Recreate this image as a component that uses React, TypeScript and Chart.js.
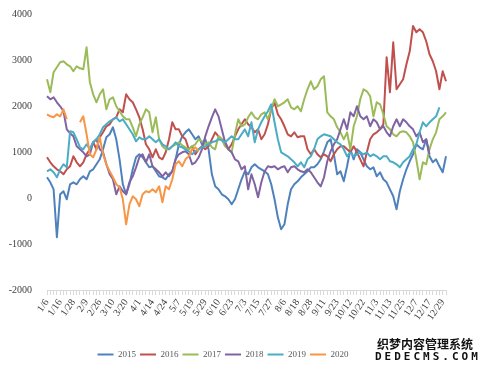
import React, { useEffect, useRef } from "react";
import { Chart, registerables } from "chart.js";

Chart.register(...registerables);

const categories = [
  "1/6","1/8","1/12","1/14","1/16","1/20","1/22","1/26","1/28","1/30","2/3","2/5",
  "2/9","2/13","2/17","2/22","2/26","2/28","3/4","3/6","3/10","3/12","3/16","3/18",
  "3/20","3/24","3/26","3/30","4/1","4/3","4/9","4/11","4/14","4/16","4/18","4/22",
  "4/24","4/28","5/3","5/5","5/7","5/11","5/13","5/17","5/19","5/21","5/23","5/27",
  "5/29","6/2","6/4","6/6","6/10","6/14","6/16","6/20","6/23","6/25","6/27","7/1",
  "7/3","7/7","7/9","7/13","7/15","7/17","7/21","7/23","7/27","7/29","7/31","8/4",
  "8/6","8/10","8/12","8/14","8/18","8/20","8/24","8/26","8/28","9/1","9/3","9/7",
  "9/11","9/15","9/17","9/19","9/23","9/25","9/29","10/10","10/12","10/14","10/16","10/20",
  "10/22","10/26","10/28","10/30","11/3","11/5","11/9","11/11","11/13","11/17","11/19","11/23",
  "11/25","11/27","12/1","12/3","12/7","12/9","12/11","12/15","12/17","12/21","12/23","12/25",
  "12/29","12/31"
];

const seriesNames = ["2015", "2016", "2017", "2018", "2019", "2020"];

const s2015 = [
  450,341,189,-854,80,146,-28,298,341,298,407,472,
  407,580,624,733,841,1059,1320,1385,1537,1276,841,298,
  80,298,624,885,950,885,776,667,689,580,472,450,
  407,515,580,841,1167,1341,1428,1493,1385,1276,1341,1167,
  1276,1059,515,254,189,80,37,-28,-137,-28,189,407,
  580,515,667,733,667,624,580,515,298,-28,-420,-680,
  -572,-137,189,298,363,450,515,580,667,667,733,841,
  1015,1211,1276,950,515,580,363,689,1059,841,1059,994,
  841,689,624,667,472,559,407,341,189,37,-246,146,
  407,624,798,950,1167,1102,1059,1276,907,776,841,689,
  559,907
];

const s2016 = [
  885,777,689,624,580,515,624,689,907,777,689,777,
  950,1059,1211,1059,1320,1428,1559,1602,1711,1754,1928,1863,
  2254,2146,2081,1928,1754,1493,1167,1059,885,1059,885,841,
  994,1276,1646,1493,1493,1341,1276,1059,1124,950,1059,1124,
  1059,1124,1276,1428,1341,1276,1211,1059,1167,1341,1493,1602,
  1711,1602,1537,1428,1493,1276,1385,1602,1928,2081,1820,1711,
  1559,1385,1341,1428,1320,1341,1341,1059,950,1059,950,885,
  950,907,798,950,1059,1124,1124,1059,994,1124,994,841,
  689,994,1276,1385,1428,1493,1602,3059,2298,3385,2363,2472,
  2580,2907,3189,3740,3602,3667,3602,3407,3124,2972,2755,2363,
  2755,2537
];

const s2017 = [
  2580,2298,2733,2841,2950,2972,2906,2863,2755,2863,2820,2798,
  3276,2515,2254,2081,2254,2363,1928,2146,2189,1994,1885,1776,
  1711,1711,1537,1341,1602,1754,1928,1863,1428,1754,1276,1124,
  1059,1059,1124,1167,1211,1146,1102,1059,1124,1167,1276,1233,
  1167,1211,1102,1059,1341,1276,1124,1059,994,1385,1711,1559,
  1602,1754,1863,1754,1711,1820,1863,1711,1928,2146,1994,2037,
  2081,2146,1972,1928,1994,1885,2146,2363,2537,2363,2428,2580,
  2646,1863,1776,1711,1537,1428,1276,1428,1059,1559,1776,2146,
  2363,2320,2211,1776,2081,2037,1820,1559,1493,1385,1341,1428,
  1450,1428,1341,1211,841,406,776,733,1059,1276,1428,1711,
  1776,1863
];

const s2018 = [
  2211,2146,2189,2081,1994,1885,1493,1407,1341,1124,1059,994,
  907,950,1211,1276,1059,994,733,515,406,80,254,146,
  80,341,472,667,885,950,776,950,689,624,559,472,
  559,472,580,841,950,994,1015,950,733,776,885,1059,
  1341,1559,1754,1928,1776,1493,1211,1059,994,841,798,624,
  689,189,515,298,15,341,580,689,667,689,624,667,
  689,559,667,689,624,580,559,624,559,450,341,254,
  450,798,1015,1167,1276,1493,1711,1493,1863,1776,1994,1776,
  1711,1776,1559,1711,1646,1493,1559,1428,1341,1559,1711,1559,
  1711,1646,1559,1493,1341,1428,1211,1276,950,null,null,null,
  null,null
];

const s2019 = [
  580,624,559,450,624,733,667,1450,1428,1276,1102,1059,
  1167,1059,1211,1276,1385,1537,1602,1667,1711,1754,1667,1711,
  1602,1493,1385,1233,1320,1276,1276,1341,1276,1211,1276,1167,
  1124,1059,1124,1211,1124,1102,1059,1015,950,1015,1059,1102,
  1124,1167,1211,1233,1276,1254,1211,1276,1341,1276,1276,1385,
  1493,1341,1646,1211,1493,1646,1776,1885,2037,1646,1276,994,
  950,907,841,776,689,776,667,841,907,1059,1276,1341,
  1385,1363,1341,1276,1211,1167,1059,907,994,907,950,994,
  950,994,907,950,907,841,907,907,798,776,733,667,
  776,841,907,1059,1167,1428,1646,1559,1646,1711,1776,1972,
  null,null
];

const s2020 = [
  1820,1776,1754,1820,1776,1928,1711,null,null,null,1646,1776,
  1385,950,885,1059,1320,950,733,580,450,298,233,-28,
  -572,-137,37,-28,-180,80,146,124,189,124,254,-93,
  254,189,407,733,798,689,841,907,1059,1102,1015,null,
  null,null,null,null,null,null,null,null,null,null,null,null,
  null,null,null,null,null,null,null,null,null,null,null,null,
  null,null,null,null,null,null,null,null,null,null,null,null,
  null,null,null,null,null,null,null,null,null,null,null,null,
  null,null,null,null,null,null,null,null,null,null,null,null,
  null,null,null,null,null,null,null,null,null,null,null,null,
  null,null
];

const yTicks = [4000, 3000, 2000, 1000, 0, -1000, -2000];

const seriesColors = ["#4F81BD", "#C0504D", "#9BBB59", "#8064A2", "#4BACC6", "#F79646"];

const allSeries = [s2015, s2016, s2017, s2018, s2019, s2020];

export default function App() {
  const canvasRef = useRef<HTMLCanvasElement | null>(null);

  useEffect(() => {
    document.body.style.margin = "0";
    const canvas = canvasRef.current;
    if (!canvas) return;
    const fontFamily = "'Liberation Serif', 'Times New Roman', serif";
    const chart = new Chart(canvas, {
      type: "line",
      data: {
        labels: categories,
        datasets: allSeries.map((d, i) => ({
          label: seriesNames[i],
          data: d,
          borderColor: seriesColors[i],
          backgroundColor: seriesColors[i],
          borderWidth: 2,
          pointRadius: 0,
          pointHoverRadius: 0,
          tension: 0,
          spanGaps: false,
          borderJoinStyle: "round" as const,
          order: allSeries.length - i,
        })),
      },
      options: {
        animation: false,
        responsive: false,
        devicePixelRatio: 1,
        layout: { padding: { top: 14, right: 38, bottom: 4, left: 0 } },
        plugins: {
          tooltip: { enabled: false },
          legend: {
            position: "bottom",
            labels: {
              usePointStyle: true,
              pointStyle: "line",
              pointStyleWidth: 16,
              padding: 4,
              color: "#595959",
              font: { family: fontFamily, size: 9 },
              sort: (a: any, b: any) => a.datasetIndex - b.datasetIndex,
            },
          },
        },
        scales: {
          x: {
            type: "category",
            offset: false,
            grid: {
              display: true,
              drawOnChartArea: false,
              drawTicks: true,
              tickLength: 5,
              color: "#d9d9d9",
            },
            border: { display: true, color: "#d9d9d9" },
            ticks: {
              autoSkip: false,
              maxRotation: 55,
              minRotation: 55,
              padding: 2,
              color: "#404040",
              font: { family: fontFamily, size: 10 },
              callback: (_v: any, i: number) => (i % 4 === 0 ? categories[i] : ""),
            },
            afterFit: (s: any) => {
              s.height = 56;
            },
          },
          y: {
            min: yTicks[yTicks.length - 1],
            max: yTicks[0],
            grid: { display: false },
            border: { display: false },
            ticks: {
              stepSize: 1000,
              padding: 7,
              color: "#404040",
              font: { family: fontFamily, size: 10 },
              callback: (v: any) => String(v),
            },
            afterFit: (s: any) => {
              s.width = 47;
            },
          },
        },
      },
    });
    return () => chart.destroy();
  }, []);

  return (
    <div style={{ position: "relative", width: 484, height: 373, background: "#fff" }}>
      <canvas ref={canvasRef} width={484} height={373} style={{ display: "block" }} />
      <div
        style={{
          position: "absolute",
          left: 375,
          top: 338,
          width: 100,
          textAlign: "center",
          fontFamily: "'Noto Sans CJK SC', sans-serif",
          fontWeight: 700,
          color: "#111",
          lineHeight: 1.05,
          textShadow: "0 0 2px #fff, 0 0 2px #fff",
        }}
      >
        <div style={{ fontSize: 12, letterSpacing: 0 }}>织梦内容管理系统</div>
        <div style={{ fontSize: 11, letterSpacing: 3, fontFamily: "'DejaVu Sans Mono', monospace" }}>DEDECMS.COM</div>
      </div>
    </div>
  );
}
